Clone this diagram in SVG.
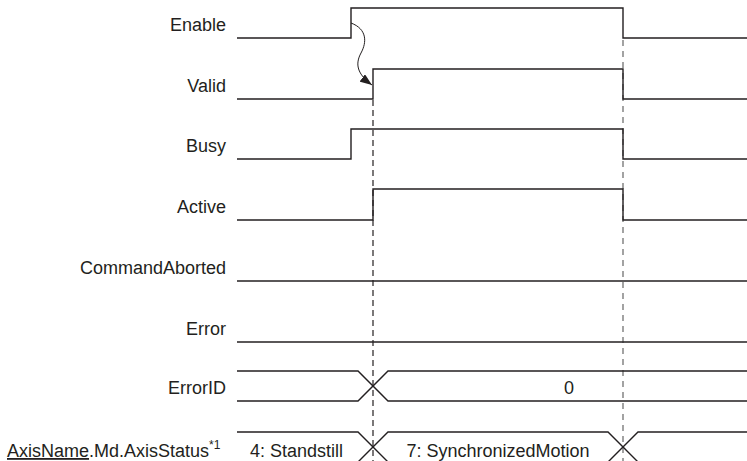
<svg xmlns="http://www.w3.org/2000/svg" width="747" height="461" viewBox="0 0 747 461">
<style>
  text { font-family: "Liberation Sans", Arial, sans-serif; font-size: 18px; fill: #231f20; }
  .lbl { text-anchor: end; }
  .mid { text-anchor: middle; }
  .sig { fill: none; stroke: #231f20; stroke-width: 1.4; }
  .dash1 { fill: none; stroke: #231f20; stroke-width: 1.2; stroke-dasharray: 6 4; }
  .dash2 { fill: none; stroke: #8c8c8c; stroke-width: 1.6; stroke-dasharray: 6 5; }
  .arr { fill: none; stroke: #231f20; stroke-width: 1; }
</style>
<defs>
  <marker id="ah" viewBox="0 0 12 9" refX="12" refY="4.5" markerWidth="12" markerHeight="9" markerUnits="userSpaceOnUse" orient="auto">
    <path d="M0,0 L12,4.5 L0,9 Z" fill="#231f20"/>
  </marker>
</defs>
<rect width="747" height="461" fill="#ffffff"/>

<g id="connectors">
  <line class="dash2" x1="623" y1="40" x2="623" y2="461"/>
  <line class="dash1" x1="373" y1="100" x2="373" y2="461"/>
  <path class="arr" d="M351,23 C367,29 367,42 361,53 C355,64 357,74 372,85" marker-end="url(#ah)"/>
</g>

<g id="enable">
  <text class="lbl" x="226" y="31">Enable</text>
  <polyline class="sig" points="237,38 351,38 351,8 623,8 623,38 747,38"/>
</g>
<g id="valid">
  <text class="lbl" x="226" y="92">Valid</text>
  <polyline class="sig" points="237,99 373,99 373,69 623,69 623,99 747,99"/>
</g>
<g id="busy">
  <text class="lbl" x="226" y="152">Busy</text>
  <polyline class="sig" points="237,159 351,159 351,129 623,129 623,159 747,159"/>
</g>
<g id="active">
  <text class="lbl" x="226" y="213">Active</text>
  <polyline class="sig" points="237,220 373,220 373,189 623,189 623,220 747,220"/>
</g>
<g id="commandaborted">
  <text class="lbl" x="226" y="274">CommandAborted</text>
  <line class="sig" x1="237" y1="281" x2="747" y2="281"/>
</g>
<g id="error">
  <text class="lbl" x="226" y="335">Error</text>
  <line class="sig" x1="237" y1="342" x2="747" y2="342"/>
</g>
<g id="errorid">
  <text class="lbl" x="226" y="394">ErrorID</text>
  <polyline class="sig" points="237,371 358,371 388,401 747,401"/>
  <polyline class="sig" points="237,401 358,401 388,371 747,371"/>
  <text class="mid" x="569" y="394">0</text>
</g>
<g id="axisstatus">
  <text x="7" y="457"><tspan text-decoration="underline">AxisName</tspan>.Md.AxisStatus<tspan font-size="12" dy="-8">*1</tspan></text>
  <polyline class="sig" points="237,432 358,432 388,462 608,462 638,432 747,432"/>
  <polyline class="sig" points="237,462 358,462 388,432 608,432 638,462 747,462"/>
  <text x="250" y="457">4: Standstill</text>
  <text class="mid" x="498" y="457">7: SynchronizedMotion</text>
</g>
</svg>
